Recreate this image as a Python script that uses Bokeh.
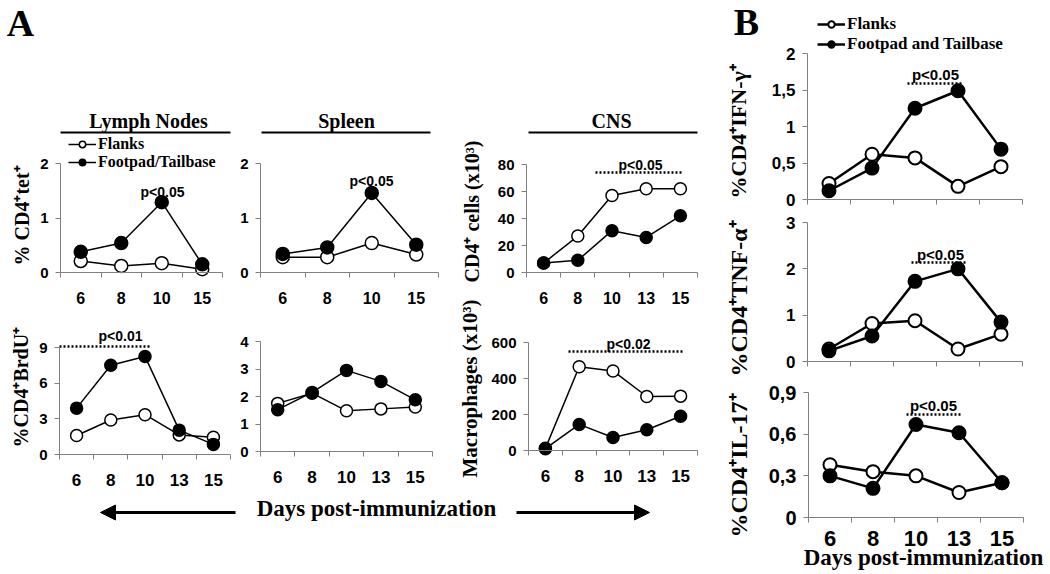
import math
from bokeh.plotting import figure
from bokeh.models import (Range1d, FixedTicker, Label, Legend, LegendItem, Arrow,
                          NormalHead, LinearAxis)
from bokeh.embed import file_html
from bokeh.resources import INLINE

# ---------------- data ----------------
days_short = ["6", "8", "10", "15"]
days = ["6", "8", "10", "13", "15"]

ln_tet_flanks = [0.21, 0.12, 0.17, 0.06]
ln_tet_foot = [0.38, 0.54, 1.29, 0.15]
sp_tet_flanks = [0.28, 0.28, 0.54, 0.33]
sp_tet_foot = [0.34, 0.46, 1.46, 0.51]
cns_cd4_flanks = [7, 27, 57, 62, 62]
cns_cd4_foot = [7, 9, 31, 26, 42]

ln_brdu_flanks = [1.6, 2.9, 3.35, 1.65, 1.45]
ln_brdu_foot = [3.9, 7.5, 8.25, 2.05, 0.85]
sp_brdu_flanks = [1.75, 2.12, 1.48, 1.55, 1.62]
sp_brdu_foot = [1.52, 2.15, 2.95, 2.55, 1.88]
cns_mac_flanks = [12, 465, 442, 300, 302]
cns_mac_foot = [10, 145, 72, 115, 190]

ifn_flanks = [0.22, 0.62, 0.57, 0.18, 0.45]
ifn_foot = [0.12, 0.43, 1.25, 1.49, 0.69]
tnf_flanks = [0.27, 0.82, 0.88, 0.27, 0.59]
tnf_foot = [0.23, 0.55, 1.73, 2.0, 0.85]
il17_flanks = [0.38, 0.33, 0.30, 0.18, 0.25]
il17_foot = [0.30, 0.21, 0.67, 0.61, 0.25]

tet_ticks, tet_labels = [0, 1, 2], ["0", "1", "2"]
cd4_ticks, cd4_labels = [0, 20, 40, 60, 80], ["0", "20", "40", "60", "80"]
brdu_ticks, brdu_labels = [0, 3, 6, 9], ["0", "3", "6", "9"]
spb_ticks, spb_labels = [0, 1, 2, 3, 4], ["0", "1", "2", "3", "4"]
mac_ticks, mac_labels = [0, 200, 400, 600], ["0", "200", "400", "600"]
ifn_ticks, ifn_labels = [0, 0.5, 1, 1.5, 2], ["0", "0,5", "1", "1,5", "2"]
tnf_ticks, tnf_labels = [0, 1, 2, 3], ["0", "1", "2", "3"]
il17_ticks, il17_labels = [0, 0.3, 0.6, 0.9], ["0", "0,3", "0,6", "0,9"]

series_names_a = ["Flanks", "Footpad/Tailbase"]
series_names_b = ["Flanks", "Footpad and Tailbase"]
panel_titles = ["Lymph Nodes", "Spleen", "CNS"]
x_title = "Days post-immunization"

# ---------------- style / canvas ----------------
GRAY = "#808080"
SANS = "Liberation Sans"
SERIF = "Liberation Serif"
W, H = 1048, 572
VERT = math.pi / 2

p = figure(width=W, height=H, x_range=Range1d(0, W), y_range=Range1d(H, 0),
           x_axis_type=None, y_axis_type=None, output_backend="svg",
           toolbar_location=None, min_border=0, min_border_left=0, min_border_right=0,
           min_border_top=0, min_border_bottom=0)
p.outline_line_color = None
p.background_fill_color = "white"
p.border_fill_color = "white"


def panel(name, axis_px, cats, flanks, foot, yticks, ylabels, xlab_size="16px",
          ylab_size="15px", marker=13, lw=1.5, mlw=1.5, x_standoff=14, show_xlabels=True):
    """axis_px: (x of left axis end, x of right axis end, y of value 0, y of top tick)."""
    ax0, ax1, ay0, ayt = axis_px
    n = len(cats)
    ymax = yticks[-1]
    sx = (ax1 - ax0) / n
    sy = (ay0 - ayt) / ymax
    p.extra_x_ranges[name] = Range1d(0.5 - ax0 / sx, 0.5 + (W - ax0) / sx)
    p.extra_y_ranges[name] = Range1d((ay0 - H) / sy, ay0 / sy)
    kw = dict(x_range_name=name, y_range_name=name)

    xs = list(range(1, n + 1))
    r1 = p.line(xs, flanks, line_color="black", line_width=lw, **kw)
    r2 = p.scatter(xs, flanks, marker="circle", size=marker, fill_color="white",
                   line_color="black", line_width=mlw, **kw)
    r3 = p.line(xs, foot, line_color="black", line_width=lw, **kw)
    r4 = p.scatter(xs, foot, marker="circle", size=marker, fill_color="black",
                   line_color="black", line_width=mlw, **kw)

    bounds_minor = [i + 0.5 for i in range(n + 1)]
    if show_xlabels:
        xt = FixedTicker(ticks=xs, minor_ticks=bounds_minor)
    else:
        xt = FixedTicker(ticks=[], minor_ticks=bounds_minor)
    xa = LinearAxis(ticker=xt, fixed_location=0, bounds=(0.5, n + 0.5), **kw)
    if show_xlabels:
        xa.major_label_overrides = {x: c for x, c in zip(xs, cats)}
    xa.axis_line_color = GRAY
    xa.axis_line_width = 1
    xa.major_tick_line_color = None
    xa.major_tick_in = 0
    xa.major_tick_out = 0
    xa.minor_tick_line_color = GRAY
    xa.minor_tick_in = 0
    xa.minor_tick_out = 5
    xa.major_label_text_font = SANS
    xa.major_label_text_font_style = "bold"
    xa.major_label_text_color = "black"
    xa.major_label_text_font_size = xlab_size
    xa.major_label_standoff = x_standoff
    p.add_layout(xa, "below")

    ya = LinearAxis(ticker=FixedTicker(ticks=yticks), fixed_location=0.5,
                    bounds=(0, ymax), **kw)
    ya.major_label_overrides = {t: l for t, l in zip(yticks, ylabels)}
    ya.axis_line_color = GRAY
    ya.axis_line_width = 1
    ya.major_tick_line_color = GRAY
    ya.major_tick_in = 0
    ya.major_tick_out = 5
    ya.minor_tick_line_color = None
    ya.major_label_text_font = SANS
    ya.major_label_text_font_style = "bold"
    ya.major_label_text_color = "black"
    ya.major_label_text_font_size = ylab_size
    ya.major_label_standoff = 7
    p.add_layout(ya, "left")
    return (r1, r2, r3, r4)


def text(x, y, s, size, font=SERIF, angle=0.0, align="center", baseline="middle"):
    p.add_layout(Label(x=x, y=y, text=s, text_font=font, text_font_style="bold",
                       text_font_size=size, text_align=align, text_baseline=baseline,
                       angle=angle, text_color="black"))


def ytitle(x, y_start, s, size):
    text(x, y_start, s, size, angle=VERT, align="left")


def pval(s, tx, ty, size="14px", line=None):
    if line is not None:
        x0, x1, y = line
        p.segment(x0=[x0], y0=[y], x1=[x1], y1=[y], line_color="black",
                  line_width=2.5, line_dash="2 2")
    text(tx, ty, s, size, font=SANS)


def legend(rs, names, loc, size):
    r1, r2, r3, r4 = rs
    leg = Legend(items=[LegendItem(label=names[0], renderers=[r1, r2]),
                        LegendItem(label=names[1], renderers=[r3, r4])],
                 location=loc, orientation="vertical")
    leg.label_text_font = SERIF
    leg.label_text_font_style = "bold"
    leg.label_text_font_size = size
    leg.label_text_color = "black"
    leg.label_standoff = 2
    leg.glyph_width = 28
    leg.glyph_height = 16
    leg.label_height = 16
    leg.spacing = 0
    leg.padding = 0
    leg.margin = 0
    leg.background_fill_alpha = 0
    leg.border_line_alpha = 0
    p.add_layout(leg)


# ---------------- Panel A, top row ----------------
lnt = panel("lnt", (60, 222, 272, 163), days_short, ln_tet_flanks, ln_tet_foot,
            tet_ticks, tet_labels)
legend(lnt, series_names_a, (68, H - 171), "16px")
pval("p<0.05", 162, 191)
ytitle(21, 265, "% CD4⁺tet⁺", "20px")

panel("spt", (260, 438, 272, 163), days_short, sp_tet_flanks, sp_tet_foot,
      tet_ticks, tet_labels)
pval("p<0.05", 371, 180)

panel("cnst", (526, 697, 272, 164), days, cns_cd4_flanks, cns_cd4_foot,
      cd4_ticks, cd4_labels, marker=12)
pval("p<0.05", 640, 164, line=(595, 682, 172))
ytitle(471, 282, "CD4⁺ cells (x10³)", "20px")

# ---------------- Panel A, bottom row ----------------
panel("lnb", (59, 230, 454, 347), days, ln_brdu_flanks, ln_brdu_foot,
      brdu_ticks, brdu_labels, xlab_size="17px", marker=12)
pval("p<0.01", 120, 335, line=(59, 150, 346))
ytitle(20, 447, "%CD4⁺BrdU⁺", "20px")

panel("spb", (260, 432, 451, 341), days, sp_brdu_flanks, sp_brdu_foot,
      spb_ticks, spb_labels, xlab_size="17px", marker=12)

panel("cnsb", (528, 697, 450, 342), days, cns_mac_flanks, cns_mac_foot,
      mac_ticks, mac_labels, xlab_size="17px", marker=12)
pval("p<0.02", 628, 343, line=(568, 682, 351))
ytitle(469, 477, "Macrophages (x10³)", "21px")

# ---------------- Panel A decorations ----------------
text(20, 22, "A", "38px")
title_cx = [148, 346, 611]
underline_x = [(60, 230), (261, 430), (528, 697)]
for t, cx, (u0, u1) in zip(panel_titles, title_cx, underline_x):
    text(cx, 120, t, "20px")
    p.segment(x0=[u0], y0=[132], x1=[u1], y1=[132], line_color="black", line_width=2)

text(376, 508, x_title, "23px")
for xs_, xe_ in ((235, 100), (516, 649)):
    p.add_layout(Arrow(x_start=xs_, y_start=512, x_end=xe_, y_end=512, line_width=3,
                       line_color="black",
                       end=NormalHead(size=15, fill_color="black", line_color="black")))

# ---------------- Panel B ----------------
ifn = panel("ifn", (807, 1022, 199, 53), days, ifn_flanks, ifn_foot, ifn_ticks,
            ifn_labels, ylab_size="17px", marker=13, lw=2.5, mlw=2, show_xlabels=False)
legend(ifn, series_names_b, (817, H - 54), "17px")
pval("p<0.05", 935, 74, size="15px", line=(907, 963, 83))
ytitle(738, 198, "%CD4⁺IFN-γ⁺", "22px")
text(746, 21, "B", "38px")

panel("tnf", (807, 1022, 361, 222), days, tnf_flanks, tnf_foot, tnf_ticks,
      tnf_labels, ylab_size="17px", marker=13, lw=2.5, mlw=2, show_xlabels=False)
pval("p<0.05", 940, 254, size="15px", line=(911, 967, 262))
ytitle(738, 376, "%CD4⁺TNF-α⁺", "24px")

panel("il17", (808, 1023, 517, 392), days, il17_flanks, il17_foot, il17_ticks,
      il17_labels, xlab_size="22px", ylab_size="20px", marker=13, lw=2.5, mlw=2,
      x_standoff=8)
pval("p<0.05", 933, 405, size="15px", line=(906, 961, 414))
ytitle(738, 537, "%CD4⁺IL-17⁺", "24px")
text(923, 557, x_title, "23px")

open("out.html", "w").write(file_html(p, INLINE, "chart"))
